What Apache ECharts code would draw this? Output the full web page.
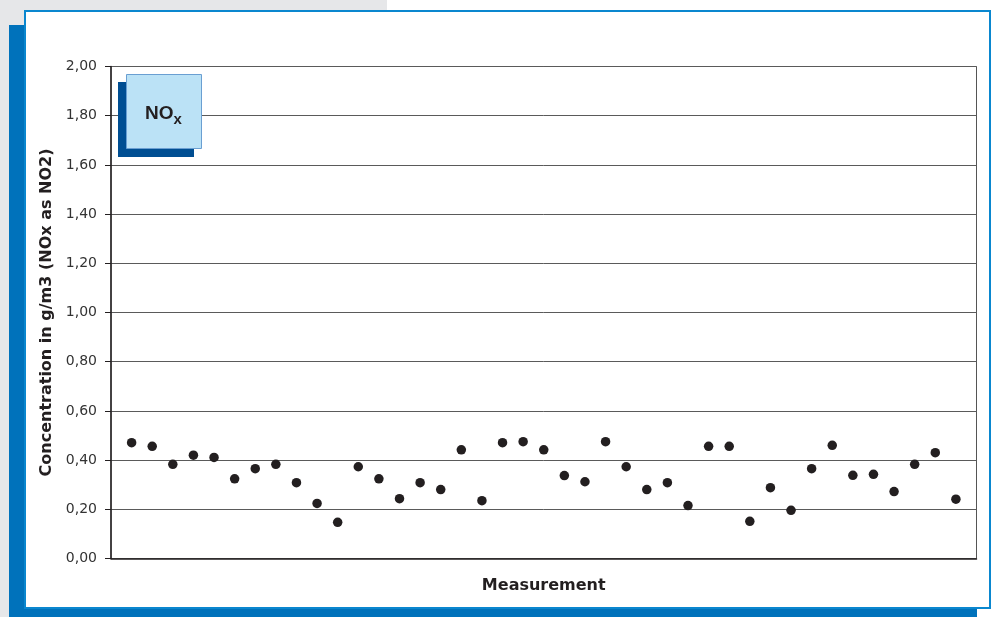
<!DOCTYPE html>
<html>
<head>
<meta charset="utf-8">
<script src="https://cdn.jsdelivr.net/npm/echarts@6/dist/echarts.min.js"></script>
<style>
  html, body { margin: 0; padding: 0; background: #fff; }
  #chart { width: 994px; height: 617px; }
</style>
</head>
<body>
<div id="chart"></div>
<script>
// measurement number (x position on hidden axis) and NOx value
const measurements = [1, 2, 3, 4, 5, 6, 7, 8, 9, 10, 11, 12, 13, 14, 15, 16, 17, 18, 19, 20, 21,
  22, 23, 24, 25, 26, 27, 28, 29, 30, 31, 32, 33, 34, 35, 36, 37, 38, 39, 40, 41];
const noxValues = [0.471, 0.456, 0.383, 0.420, 0.411, 0.324, 0.365, 0.383, 0.308, 0.224, 0.147,
  0.373, 0.324, 0.243, 0.308, 0.280, 0.442, 0.235, 0.471, 0.475, 0.442, 0.337, 0.312, 0.475,
  0.373, 0.280, 0.308, 0.215, 0.456, 0.456, 0.151, 0.288, 0.196, 0.365, 0.460, 0.338, 0.342,
  0.272, 0.383, 0.430, 0.241];
const yTicks = [0, 0.2, 0.4, 0.6, 0.8, 1.0, 1.2, 1.4, 1.6, 1.8, 2.0];

const chart = echarts.init(document.getElementById('chart'));

const points = measurements.map((m, i) => [m, noxValues[i]]);

const option = {
  backgroundColor: '#ffffff',
  animation: false,
  graphic: [
    // grey page behind the panel
    { type: 'rect', z: -20, shape: { x: 0, y: 0, width: 387, height: 617 }, style: { fill: '#e6e7e9' } },
    // dark blue offset band
    { type: 'rect', z: -19, shape: { x: 9, y: 25, width: 968, height: 600 }, style: { fill: '#0072bb' } },
    // white panel with thin blue border
    { type: 'rect', z: -18, shape: { x: 25, y: 11, width: 965, height: 597 },
      style: { fill: '#ffffff', stroke: '#0a87cf', lineWidth: 2 } },
    // NOx label box
    { type: 'rect', z: 10, shape: { x: 118, y: 82, width: 76, height: 75 }, style: { fill: '#004e92' } },
    { type: 'rect', z: 11, shape: { x: 126.5, y: 74.5, width: 75, height: 74 },
      style: { fill: '#bbe2f6', stroke: '#6a9fd2', lineWidth: 1 } },
    { type: 'text', z: 12, x: 145, y: 123,
      style: { text: 'NO', font: 'bold 19px "Liberation Sans", Arial', fill: '#231f20', textVerticalAlign: 'bottom' } },
    { type: 'text', z: 12, x: 173.5, y: 127,
      style: { text: 'x', font: 'bold 15px "Liberation Sans", Arial', fill: '#231f20', textVerticalAlign: 'bottom' } }
  ],
  grid: {
    left: 111,
    top: 66.5,
    right: 17.5,
    bottom: 58.5,
    show: true,
    backgroundColor: 'transparent',
    borderColor: '#555',
    borderWidth: 1
  },
  xAxis: {
    type: 'value',
    min: 0,
    max: 42,
    name: 'Measurement',
    nameLocation: 'middle',
    nameGap: 19,
    nameTextStyle: { fontFamily: 'DejaVu Sans', fontWeight: 'bold', fontSize: 16, color: '#231f20' },
    axisLine: { show: true, lineStyle: { color: '#231f20', width: 1.5 } },
    axisTick: { show: false },
    axisLabel: { show: false },
    splitLine: { show: false }
  },
  yAxis: {
    type: 'value',
    min: yTicks[0],
    max: yTicks[yTicks.length - 1],
    interval: 0.2,
    name: 'Concentration in g/m3 (NOx as NO2)',
    nameLocation: 'middle',
    nameRotate: 90,
    nameGap: 54,
    nameTextStyle: { fontFamily: 'DejaVu Sans', fontWeight: 'bold', fontSize: 16, color: '#231f20' },
    axisLine: { show: true, lineStyle: { color: '#231f20', width: 1.5 } },
    axisTick: { show: true, inside: false, length: 6, lineStyle: { color: '#231f20' } },
    axisLabel: {
      margin: 14,
      fontFamily: 'DejaVu Sans',
      fontSize: 14,
      color: '#333',
      formatter: v => v.toFixed(2).replace('.', ',')
    },
    splitLine: { show: true, lineStyle: { color: '#5a5a5a', width: 1 } }
  },
  series: [{
    name: 'NOx',
    type: 'scatter',
    symbol: 'circle',
    symbolSize: 9.5,
    itemStyle: { color: '#231f20', opacity: 1 },
    data: points
  }]
};

chart.setOption(option);
</script>
</body>
</html>
